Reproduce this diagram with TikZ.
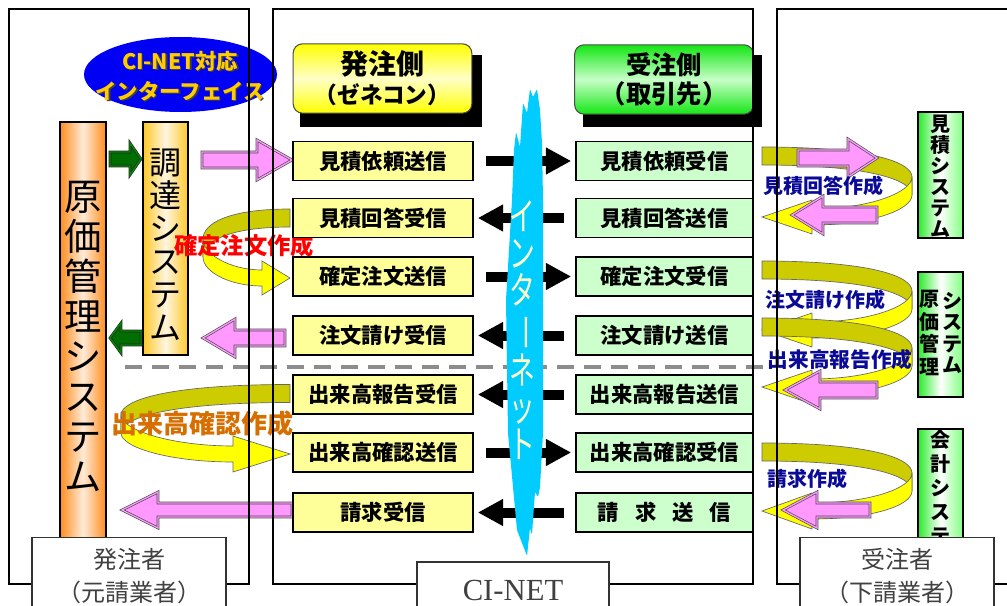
\documentclass[tikz,border=0pt]{standalone}
\usepackage{fontspec}
\setmainfont{Noto Sans CJK JP}
\newfontfamily\tnr{Liberation Serif}
\usetikzlibrary{arrows.meta,shapes.geometric}
\definecolor{boxy}{RGB}{255,255,153}
\definecolor{boxg}{RGB}{204,255,204}
\definecolor{pinkf}{RGB}{255,153,255}
\definecolor{olivef}{RGB}{204,204,0}
\definecolor{yelf}{RGB}{255,255,0}
\definecolor{cyanf}{RGB}{0,204,255}
\definecolor{navyt}{RGB}{10,10,150}
\definecolor{oranget}{RGB}{214,110,0}
\definecolor{goldt}{RGB}{255,204,0}
\definecolor{orbar}{RGB}{255,140,30}
\definecolor{goldbar}{RGB}{255,200,40}
\definecolor{gfill}{RGB}{0,110,0}
\definecolor{hgreen}{RGB}{20,230,20}
\definecolor{sysg}{RGB}{40,235,40}
\definecolor{inett}{RGB}{255,255,200}
\newcommand\fs[2]{\fontsize{#1}{#2}\selectfont}
% block arrow: style, tail x, head base x, tip x, y, shaft half, head half
\newcommand\blockarrow[7]{%
  \filldraw[#1] (#2,{#5-#6}) -- (#3,{#5-#6}) -- (#3,{#5-#7}) -- (#4,#5) -- (#3,{#5+#7}) -- (#3,{#5+#6}) -- (#2,{#5+#6}) -- cycle;}
% ribbon: x0, c1, m, c2, Xturn, C1, C2, head base, head half
\newcommand\ribbon[9]{%
  \filldraw[ribback] (#1,{#2-9}) .. controls (#6,{#2-9}) and (#5,{#3-24}) .. (#5,{#3-9}) -- (#5,{#3+9}) .. controls (#5,{#3-6}) and (#6,{#2+9}) .. (#1,{#2+9}) -- cycle;
  \filldraw[ribfront] (#5,{#3-9}) .. controls (#5,{#3+6}) and (#7,{#4-8}) .. (#8,{#4-8}) -- (#8,{#4-#9}) -- (#1,#4) -- (#8,{#4+#9}) -- (#8,{#4+8}) .. controls (#7,{#4+8}) and (#5,{#3+24}) .. (#5,{#3+9}) -- cycle;}
\tikzset{
  frame/.style={draw=black, line width=1.5pt},
  rowbox/.style={draw=black, line width=1.2pt, minimum height=29pt, inner sep=0pt, font=\fs{16pt}{18pt}\bfseries},
  ybox/.style={rowbox, fill=boxy, minimum width=135pt},
  gbox/.style={rowbox, fill=boxg, minimum width=132.75pt},
  netarrow/.style={line width=7.5pt, -{Triangle[length=19pt,width=19pt]}},
  toright/.style={netarrow, shorten <=9pt, shorten >=3pt},
  toleft/.style={netarrow, shorten <=8.25pt, shorten >=3pt},
  hdr/.style={draw=black!70, line width=0.8pt, rounded corners=7pt, minimum width=134pt, minimum height=52pt, align=center, inner sep=0pt, font=\fs{21pt}{22pt}\bfseries},
  pinkarr/.style={fill=pinkf, draw=black!70, double=pinkf, double distance=1pt, line width=0.5pt},
  greenarr/.style={fill=gfill, draw=black!85, double=green!55!black, double distance=1pt, line width=0.5pt},
  ribback/.style={fill=olivef, draw=black!60, line width=0.5pt},
  ribfront/.style={fill=yelf, draw=black!60, line width=0.5pt},
  steplbl/.style={font=\fs{15pt}{16pt}\bfseries, text=navyt, inner sep=0pt},
  vtext/.style={align=center, inner sep=0pt},
  sysbox/.style={draw=black, line width=1.2pt, minimum width=33.75pt, left color=sysg, right color=green!50!white, middle color=white, inner sep=0pt},
  party/.style={draw=black!80, line width=1pt, fill=white, align=center, text=black!75, font=\fs{18pt}{24.75pt}, minimum width=145.5pt, minimum height=58.5pt, inner sep=0pt},
}
\begin{document}
\begin{tikzpicture}[x=0.75pt,y=-0.75pt]
\useasboundingbox (0,0) rectangle (1007,606);
\clip (0,0) rectangle (1007,606);
\fill[white] (0,0) rectangle (1007,606);

% interface ellipse
\node[ellipse, fill={rgb,255:red,0;green,0;blue,245}, minimum width=144.75pt, minimum height=56.25pt, inner sep=0pt] (iface) at (180.5,74.5) {};
\node[vtext, font=\fs{16pt}{22.5pt}\bfseries, text=black!75] (ifaceshadow) at ([shift={(1.2pt,-1.2pt)}]180,76) {CI-NET対応\\インターフェイス};
\node[vtext, font=\fs{16pt}{22.5pt}\bfseries, text=goldt] (ifacetext) at (180,76) {CI-NET対応\\インターフェイス};

% headers
\fill[black] (300,55) rectangle (482,127);
\node[hdr, top color=yelf, bottom color=yelf, middle color={rgb,255:red,255;green,255;blue,200}] (hdrL) at (382.5,78.5) {発注側\\{\fs{17pt}{22pt}（ゼネコン）}};
\fill[black] (583,55) rectangle (762,127);
\node[hdr, top color=hgreen, bottom color=hgreen, middle color={rgb,255:red,200;green,255;blue,200}, font=\fs{19pt}{22pt}\bfseries] (hdrR) at (664,79.5) {受注側\\（取引先）};

% left systems
\node[draw=black, line width=1.2pt, minimum width=34.5pt, minimum height=346.5pt, left color=orbar, right color=orbar, middle color={rgb,255:red,255;green,235;blue,215}, inner sep=0pt] (genka) at (83,353) {};
\node[vtext, font=\fs{28pt}{30pt}] (genkat) at (83,336) {原\\価\\管\\理\\シ\\ス\\テ\\ム};
\node[draw=black, line width=1.2pt, minimum width=33.75pt, minimum height=174.75pt, left color=goldbar, right color=goldbar, middle color={rgb,255:red,255;green,245;blue,225}, inner sep=0pt] (chotatsu) at (165.5,238.5) {};
\node[vtext, font=\fs{24pt}{24.75pt}] (chotatsut) at (165.5,245) {調\\達\\シ\\ス\\テ\\ム};
\blockarrow{greenarr}{110}{130}{141}{159}{7}{16}
\blockarrow{greenarr}{141}{121}{110}{338}{7}{15}

% ribbons
\ribbon{290}{218}{248}{278}{203}{227}{230}{262}{17}
\ribbon{290}{393.5}{424}{454}{121}{168}{172}{233}{18}
\ribbon{762}{156}{186}{217}{912}{870}{870}{812}{17}
\ribbon{762}{270}{300}{330}{912}{870}{870}{812}{17}
\ribbon{762}{327}{357}{387}{912}{870}{870}{812}{17}
\ribbon{762}{452}{482}{511}{912}{870}{870}{812}{18}

% pink arrows
\blockarrow{pinkarr}{202}{257}{292}{160}{8}{20}
\blockarrow{pinkarr}{285}{235}{203}{338}{8}{19}
\blockarrow{pinkarr}{292}{158}{122}{510}{7}{18}
\blockarrow{pinkarr}{798}{848}{877}{158}{8}{19}
\blockarrow{pinkarr}{877}{823}{792}{215}{8}{19}
\blockarrow{pinkarr}{877}{820}{785}{390}{8}{19}
\blockarrow{pinkarr}{870}{817}{783}{510}{7}{18}

% process step labels
\node[steplbl, font=\fs{17.5pt}{18pt}\bfseries, text=red] (lk) at (244,246) {確定注文作成};
\node[steplbl, font=\fs{19.5pt}{20pt}\bfseries, text=oranget] (ld) at (202,424) {出来高確認作成};
\node[steplbl] (lm) at (823,186) {見積回答作成};
\node[steplbl] (lc) at (825,300) {注文請け作成};
\node[steplbl, font=\fs{15.5pt}{16pt}\bfseries] (lh) at (840,360) {出来高報告作成};
\node[steplbl] (ls) at (807,479) {請求作成};

% separator
\draw[black!45, line width=3pt, dash pattern=on 12.75pt off 7.5pt] (125,367) -- (766,367);

% rows
\node[ybox] (L1) at (383,161) {見積依頼送信};
\node[ybox] (L2) at (383,218) {見積回答受信};
\node[ybox] (L3) at (383,276.5) {確定注文送信};
\node[ybox] (L4) at (383,335.5) {注文請け受信};
\node[ybox] (L5) at (383,394.5) {出来高報告受信};
\node[ybox] (L6) at (383,452.5) {出来高確認送信};
\node[ybox] (L7) at (383,512.5) {請求受信};
\node[gbox] (R1) at (664.5,161) {見積依頼受信};
\node[gbox] (R2) at (664.5,218) {見積回答送信};
\node[gbox] (R3) at (664.5,276.5) {確定注文受信};
\node[gbox] (R4) at (664.5,335.5) {注文請け送信};
\node[gbox] (R5) at (664.5,394.5) {出来高報告送信};
\node[gbox] (R6) at (664.5,452.5) {出来高確認受信};
\node[gbox] (R7) at (664.5,512.5) {請\hspace{0.75em}求\hspace{0.75em}送\hspace{0.75em}信};

\draw[toright] (L1.east) -- (R1.west);
\draw[toleft] (R2.west) -- (L2.east);
\draw[toright] (L3.east) -- (R3.west);
\draw[toleft] (R4.west) -- (L4.east);
\draw[toleft] (R5.west) -- (L5.east);
\draw[toright] (L6.east) -- (R6.west);
\draw[toleft] (R7.west) -- (L7.east);

% internet
\fill[cyanf, rounded corners=0.8pt] (527,556) -- (517,530) -- (513,487) -- (508,433) -- (506,300) -- (512,200) -- (514,150) -- (516,132) -- (520,147) -- (523,103) -- (527,113) -- (530,89) -- (533,97) -- (537,89) -- (540,110) -- (542,143) -- (543,200) -- (543,433) -- (540,487) -- (538,497) -- (535,492) -- (533,520) -- (532,535) -- (530,528) -- cycle;
\node[inner sep=0pt, text=inett] (inet) at (522,330) {\scalebox{0.88}[1.3]{\parbox{30pt}{\centering\fs{22pt}{21.3pt}イ\\ン\\タ\\\rotatebox[origin=c]{-90}{ー}\\ネ\\ッ\\ト}}};

% right systems
\node[sysbox, minimum height=94.5pt] (sysM) at (940.5,175) {};
\node[vtext, font=\fs{15pt}{15.75pt}\bfseries] (sysMt) at (940.5,176) {見\\積\\シ\\ス\\テ\\ム};
\node[sysbox, minimum height=93.75pt] (sysG) at (940.5,334.5) {};
\node[vtext, font=\fs{15pt}{16pt}\bfseries] (sysGt1) at (952,333) {シ\\ス\\テ\\ム};
\node[vtext, font=\fs{15pt}{17pt}\bfseries] (sysGt2) at (929,333) {原\\価\\管\\理};
\node[sysbox, minimum height=128.25pt] (sysK) at (940.5,514.5) {};
\node[vtext, font=\fs{15pt}{18pt}\bfseries, anchor=north] (sysKt) at (940.5,430) {会\\計\\シ\\ス\\テ};

% frames
\draw[frame] (9,9) rectangle (249,584);
\draw[frame] (273,9) rectangle (753,584);
\draw[frame] (777,9) rectangle (1015,584);

% party labels
\node[party] (orderer) at (129,576.5) {発注者\\（元請業者）};
\node[party, minimum width=144pt, minimum height=42pt, font=\fs{23pt}{24pt}\tnr] (cinet) at (513,590) {CI-NET};
\node[party] (contractor) at (897,576.5) {受注者\\（下請業者）};
\end{tikzpicture}
\end{document}
